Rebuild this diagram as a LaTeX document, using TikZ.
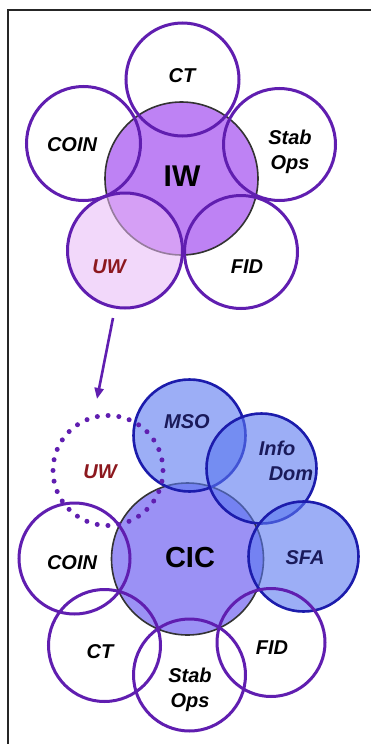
\documentclass[tikz,border=0pt]{standalone}
\usepackage{fontspec}
\setmainfont{Liberation Sans}
\usetikzlibrary{arrows.meta}
\definecolor{ringpurple}{RGB}{96,30,176}
\definecolor{iwfill}{RGB}{190,130,244}
\definecolor{uwfill}{RGB}{233,184,246}
\definecolor{cicfill}{RGB}{155,145,245}
\definecolor{bluefill}{RGB}{90,120,240}
\definecolor{blueedge}{RGB}{28,28,172}
\definecolor{navytext}{RGB}{26,26,90}
\definecolor{uwtext}{RGB}{140,24,30}
\tikzset{
  ring/.style={circle, draw=ringpurple, line width=3pt, inner sep=0pt, minimum size=#1},
  core/.style={circle, draw=black!80, line width=1.6pt, inner sep=0pt, minimum size=#1},
  bluering/.style={circle, draw=blueedge, line width=2.6pt, fill=bluefill, fill opacity=0.6, draw opacity=1, inner sep=0pt, minimum size=#1},
  lbl/.style={font=\fontsize{20}{24.5}\selectfont\bfseries\itshape, align=center, inner sep=0pt},
  biglbl/.style={font=\fontsize{30}{32}\selectfont\bfseries, inner sep=0pt},
}
\begin{document}
\begin{tikzpicture}[x=1pt,y=-1pt]
\useasboundingbox (0,0) rectangle (370,744);
\fill[white] (0,0) rectangle (370,744);
% frame
\draw[line width=2pt, black!85] (8,750) -- (8,10) -- (375,10);

% ===== top diagram =====
\node[core=153pt, fill=iwfill] (iw) at (181.5,178.5) {};
\node[ring=113pt] (ctA) at (182.5,79.5) {};
\node[ring=114pt] (coinA) at (83.5,143.5) {};
\node[ring=112pt] (stabA) at (279.5,144.5) {};
\node[ring=113pt] (fidA) at (241,252) {};
\node[ring=115pt, fill=uwfill, fill opacity=0.55, draw opacity=1] (uwA) at (125,250.5) {};

\node[biglbl] (tiw) at (182,176) {IW};
\node[lbl] (tctA) at (182,76) {CT};
\node[lbl] (tcoinA) at (72,145) {COIN};
\node[lbl] (tstabA) at (290,152) {Stab\\Ops};
\node[lbl, text=uwtext] (tuwA) at (109,267) {UW};
\node[lbl] (tfidA) at (247,267) {FID};

% arrow
\coordinate (arrS) at (113,318);
\coordinate (arrE) at (97,399);
\draw[ringpurple, line width=2.6pt, -{Triangle[length=11pt,width=9pt]}] (arrS) -- (arrE);

% ===== bottom diagram =====
\node[core=152pt, fill=cicfill] (cic) at (187.5,559) {};
\node[bluering=112pt] (mso) at (189.5,435.5) {};
\node[bluering=110pt] (info) at (261.5,468.5) {};
\node[bluering=110pt] (sfa) at (303.5,556.5) {};
\node[ring=111pt] (coinB) at (74.5,558.5) {};
\node[ring=112pt] (ctB) at (104.5,645.5) {};
\node[ring=112pt] (stabB) at (189.5,675) {};
\node[ring=108pt] (fidB) at (271,642.5) {};
\draw[ringpurple, line width=5pt, line cap=round, dash pattern=on 0pt off 10.8pt] (108,470.5) circle[radius=55];
\coordinate (uwB) at (108,470.5);

\node[font=\fontsize{29}{31}\selectfont\bfseries, inner sep=0pt] (tcic) at (190,558) {CIC};
\node[lbl, text=navytext] (tmso) at (187,422) {MSO};
\node[lbl, text=navytext, align=left] (tinfo) at (286,461) {Info\\\hspace*{10pt}Dom};
\node[lbl, text=navytext] (tsfa) at (305,558) {SFA};
\node[lbl, text=uwtext] (tuwB) at (100,472) {UW};
\node[lbl] (tcoinB) at (72,563) {COIN};
\node[lbl] (tctB) at (100,652) {CT};
\node[lbl] (tstabB) at (190,690) {Stab\\Ops};
\node[lbl] (tfidB) at (272,648) {FID};
\end{tikzpicture}
\end{document}
